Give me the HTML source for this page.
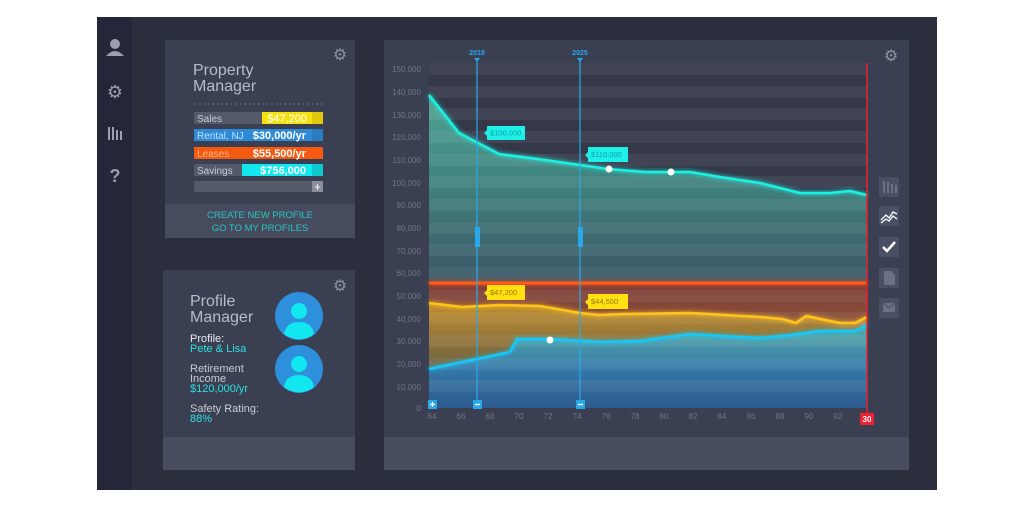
<!DOCTYPE html>
<html><head><meta charset="utf-8"><style>
body{margin:0;background:#fff;width:1035px;height:510px;overflow:hidden;font-family:"Liberation Sans",sans-serif}
svg{display:block}
</style></head><body>
<svg width="1035" height="510" viewBox="0 0 1035 510" font-family="Liberation Sans, sans-serif">
<defs>
<linearGradient id="teal" gradientUnits="userSpaceOnUse" x1="0" y1="95" x2="0" y2="285"><stop offset="0" stop-color="#4fa595"/><stop offset="0.5" stop-color="#3f7f7c"/><stop offset="1" stop-color="#3a5565"/></linearGradient>
<linearGradient id="orng" gradientUnits="userSpaceOnUse" x1="0" y1="283" x2="0" y2="340"><stop offset="0" stop-color="#7e3c38"/><stop offset="1" stop-color="#8f5a38"/></linearGradient>
<linearGradient id="yel" gradientUnits="userSpaceOnUse" x1="0" y1="305" x2="0" y2="408"><stop offset="0" stop-color="#c08c2e"/><stop offset="0.45" stop-color="#826c3c"/><stop offset="1" stop-color="#3a4f6a"/></linearGradient>
<linearGradient id="blu" gradientUnits="userSpaceOnUse" x1="0" y1="330" x2="0" y2="408"><stop offset="0" stop-color="#52a8a8"/><stop offset="0.5" stop-color="#3578a8"/><stop offset="1" stop-color="#2c5a8e"/></linearGradient>
<filter id="glow" x="-10%" y="-50%" width="120%" height="200%"><feGaussianBlur stdDeviation="2.5" result="b"/><feMerge><feMergeNode in="b"/><feMergeNode in="SourceGraphic"/></feMerge></filter>
</defs>
<rect x="97" y="17" width="840" height="473" fill="#2b2e3d"/>
<rect x="97" y="17" width="35" height="473" fill="#24273a"/>
<g fill="#9aa0b0">
<circle cx="115" cy="44" r="5"/><path d="M106 56 q9-10 18 0z"/>
<text x="115" y="98" font-size="18" text-anchor="middle">⚙</text>
<rect x="108" y="127" width="2" height="13"/><rect x="112" y="127" width="2" height="13"/><rect x="116" y="130" width="2" height="10"/><rect x="120" y="131" width="2" height="9"/>
<text x="115" y="182" font-size="18" font-weight="bold" text-anchor="middle">?</text>
</g>
<rect x="165" y="40" width="190" height="198" fill="#3a3f52"/>
<rect x="165" y="204" width="190" height="34" fill="#464c5e"/>
<text x="340" y="60" font-size="16" fill="#8e93a2" text-anchor="middle">⚙</text>
<text x="193" y="75" font-size="16" fill="#b8bcc8">Property</text>
<text x="193" y="91" font-size="16" fill="#b8bcc8">Manager</text>
<line x1="195" y1="104" x2="323" y2="104" stroke="#9a9eaa" stroke-dasharray="1 3.5"/>
<rect x="194" y="112" width="129" height="12" fill="#555a6a"/><rect x="262" y="112" width="50" height="12" fill="#f5e010"/><rect x="312" y="112" width="11" height="12" fill="#e0c80e"/>
<text x="197" y="122" font-size="10" fill="#c8ccd4">Sales</text><text x="307" y="122" font-size="11" fill="#fff" text-anchor="end">$47,200</text>
<rect x="194" y="129" width="129" height="12" fill="#2f8ad6"/><rect x="312" y="129" width="11" height="12" fill="#2a7cc0"/>
<text x="197" y="139" font-size="10" fill="#bfe0ff">Rental, NJ</text><text x="306" y="139" font-size="11" font-weight="bold" fill="#fff" text-anchor="end">$30,000/yr</text>
<rect x="194" y="147" width="129" height="12" fill="#f55a10"/>
<text x="197" y="157" font-size="10" fill="#ffb080">Leases</text><text x="306" y="157" font-size="11" font-weight="bold" fill="#fff" text-anchor="end">$55,500/yr</text>
<rect x="194" y="164" width="129" height="12" fill="#555a6a"/><rect x="242" y="164" width="70" height="12" fill="#12e6ee"/><rect x="312" y="164" width="11" height="12" fill="#10c8d0"/>
<text x="197" y="174" font-size="10" fill="#c8ccd4">Savings</text><text x="306" y="174" font-size="11" font-weight="bold" fill="#fff" text-anchor="end">$756,000</text>
<rect x="194" y="181" width="129" height="11" fill="#555a6a"/><rect x="312" y="181" width="11" height="11" fill="#8a8e9a"/>
<text x="317.5" y="191" font-size="12" fill="#fff" text-anchor="middle">+</text>
<text x="260" y="218" font-size="9.5" fill="#2cc4c0" text-anchor="middle">CREATE NEW PROFILE</text>
<text x="260" y="231" font-size="9.5" fill="#2cc4c0" text-anchor="middle">GO TO  MY PROFILES</text>
<rect x="163" y="270" width="192" height="200" fill="#3a3f52"/>
<rect x="163" y="437" width="192" height="33" fill="#474d5e"/>
<text x="340" y="291" font-size="16" fill="#8e93a2" text-anchor="middle">⚙</text>
<text x="190" y="306" font-size="16" fill="#b8bcc8">Profile</text>
<text x="190" y="322" font-size="16" fill="#b8bcc8">Manager</text>
<text x="190" y="342" font-size="11" fill="#e8eaf0">Profile:</text>
<text x="190" y="352" font-size="11" fill="#2ee0e0">Pete &amp; Lisa</text>
<text x="190" y="372" font-size="11" fill="#c8ccd4">Retirement</text>
<text x="190" y="382" font-size="11" fill="#c8ccd4">Income</text>
<text x="190" y="392" font-size="11" fill="#2ee0e0">$120,000/yr</text>
<text x="190" y="412" font-size="11" fill="#c8ccd4">Safety Rating:</text>
<text x="190" y="422" font-size="11" fill="#2ee0e0">88%</text>
<circle cx="299" cy="316" r="24" fill="#2e8fdc"/><circle cx="299" cy="311" r="8" fill="#12e6ee"/><path d="M284 334 q2-12 15-12 q13 0 15 12 a24 24 0 0 1 -30 0z" fill="#12e6ee"/>
<circle cx="299" cy="369" r="24" fill="#2e8fdc"/><circle cx="299" cy="364" r="8" fill="#12e6ee"/><path d="M284 387 q2-12 15-12 q13 0 15 12 a24 24 0 0 1 -30 0z" fill="#12e6ee"/>
<rect x="384" y="40" width="525" height="430" fill="#3a3f52"/>
<rect x="384" y="437" width="525" height="33" fill="#474d5e"/>
<rect x="429" y="63" width="438" height="345" fill="#343849"/>
<path d="M429 95 L459 133 L499 154 L545 160 L580 165 L608 169 L645 172 L690 172 L720 177 L760 183 L800 193 L830 193 L850 191 L867 195 L867 283 L429 283Z" fill="url(#teal)"/>
<rect x="429" y="283" width="438" height="125" fill="url(#orng)"/>
<path d="M429 303 L462 307 L500 305 L540 306 L580 313 L598 315 L625 314 L690 313 L760 317 L782 319 L796 323 L806 316 L840 323 L855 323 L867 317 L867 408 L429 408Z" fill="url(#yel)"/>
<path d="M429 369 L510 352 L517 339 L550 339 L600 342 L640 341 L690 334 L760 338 L790 335 L820 331 L855 331 L867 325 L867 408 L429 408Z" fill="url(#blu)"/>
<g fill="#ffffff" opacity="0.06">
<rect x="429" y="63" width="438" height="12"/><rect x="429" y="86" width="438" height="12"/><rect x="429" y="108" width="438" height="12"/><rect x="429" y="131" width="438" height="12"/><rect x="429" y="154" width="438" height="12"/><rect x="429" y="176" width="438" height="12"/><rect x="429" y="199" width="438" height="12"/><rect x="429" y="222" width="438" height="12"/><rect x="429" y="244" width="438" height="12"/><rect x="429" y="267" width="438" height="12"/><rect x="429" y="290" width="438" height="12"/><rect x="429" y="312" width="438" height="12"/><rect x="429" y="335" width="438" height="12"/><rect x="429" y="358" width="438" height="12"/><rect x="429" y="380" width="438" height="12"/>
</g>
<text x="891" y="61" font-size="16" fill="#8e93a2" text-anchor="middle">⚙</text>
<g font-size="8" fill="#6f7587" text-anchor="end">
<text x="421" y="72">150,000</text><text x="421" y="95">140,000</text><text x="421" y="118">130,000</text><text x="421" y="140">120,000</text><text x="421" y="163">110,000</text><text x="421" y="186">100,000</text><text x="421" y="208">90,000</text><text x="421" y="231">80,000</text><text x="421" y="254">70,000</text><text x="421" y="276">60,000</text><text x="421" y="299">50,000</text><text x="421" y="322">40,000</text><text x="421" y="344">30,000</text><text x="421" y="367">20,000</text><text x="421" y="390">10,000</text><text x="421" y="411">0</text>
</g>
<g font-size="8" fill="#6f7587" text-anchor="middle">
<text x="432" y="419">64</text><text x="461" y="419">66</text><text x="490" y="419">68</text><text x="519" y="419">70</text><text x="548" y="419">72</text><text x="577" y="419">74</text><text x="606" y="419">76</text><text x="635" y="419">78</text><text x="664" y="419">80</text><text x="693" y="419">82</text><text x="722" y="419">84</text><text x="751" y="419">86</text><text x="780" y="419">88</text><text x="809" y="419">90</text><text x="838" y="419">92</text>
</g>
<g fill="none" stroke-width="2.5" stroke-linejoin="round" filter="url(#glow)">
<path d="M429 95 L459 133 L499 154 L545 160 L580 165 L608 169 L645 172 L690 172 L720 177 L760 183 L800 193 L830 193 L850 191 L867 195" stroke="#1ef0e0"/>
<line x1="429" y1="283" x2="867" y2="283" stroke="#ff5a14" stroke-width="3"/>
<path d="M429 303 L462 307 L500 305 L540 306 L580 313 L598 315 L625 314 L690 313 L760 317 L782 319 L796 323 L806 316 L840 323 L855 323 L867 317" stroke="#ffc41a"/>
<path d="M429 369 L510 352 L517 339 L550 339 L600 342 L640 341 L690 334 L760 338 L790 335 L820 331 L855 331 L867 325" stroke="#18c8f8"/>
</g>
<g fill="#fff"><circle cx="609" cy="169" r="3.5"/><circle cx="671" cy="172" r="3.5"/><circle cx="550" cy="340" r="3.5"/></g>
<line x1="867" y1="63" x2="867" y2="414" stroke="#f02030" stroke-width="1.5"/>
<rect x="860" y="413" width="14" height="12" fill="#f02030"/><text x="867" y="422" font-size="8" fill="#fff" text-anchor="middle" font-weight="bold">30</text>
<g stroke="#2aa8ea" stroke-width="1.2"><line x1="477" y1="58" x2="477" y2="408"/><line x1="580" y1="58" x2="580" y2="408"/></g>
<g fill="#2aa8ea">
<path d="M474 58 h6 l-3 4z"/><path d="M577 58 h6 l-3 4z"/>
<text x="477" y="55" font-size="7" font-weight="bold" text-anchor="middle">2018</text><text x="580" y="55" font-size="7" font-weight="bold" text-anchor="middle">2025</text>
<rect x="475" y="227" width="5" height="20"/><rect x="578" y="227" width="5" height="20"/>
<rect x="473" y="400" width="9" height="9"/><rect x="576" y="400" width="9" height="9"/><rect x="428" y="400" width="9" height="9"/>
</g>
<g stroke="#fff" stroke-width="1.3"><line x1="475" y1="404.5" x2="480" y2="404.5"/><line x1="578" y1="404.5" x2="583" y2="404.5"/><line x1="430" y1="404.5" x2="435" y2="404.5"/><line x1="432.5" y1="402" x2="432.5" y2="407"/></g>
<g font-size="7.5" fill="#0fa0a0">
<path d="M487 126 h38 v14 h-38 v-4 l-3 -3 l3 -3z" fill="#1ef0e8"/><text x="490" y="135.5">$100,000</text>
<path d="M588 147 h40 v15 h-40 v-4 l-3 -3 l3 -3z" fill="#1ef0e8"/><text x="591" y="157">$110,000</text>
</g>
<g font-size="7.5" fill="#9a7a00">
<path d="M487 285 h38 v15 h-38 v-4 l-3 -3 l3 -3z" fill="#ffe010"/><text x="490" y="295">$47,200</text>
<path d="M588 294 h40 v15 h-40 v-4 l-3 -3 l3 -3z" fill="#ffe010"/><text x="591" y="304">$44,500</text>
</g>
<g fill="#4a5064"><rect x="879" y="177" width="20" height="20"/><rect x="879" y="206" width="20" height="20"/><rect x="879" y="237" width="20" height="20"/><rect x="879" y="268" width="20" height="20"/><rect x="879" y="298" width="20" height="20"/></g>
<g fill="#6c7286"><rect x="883" y="181" width="2" height="12"/><rect x="887" y="182" width="2" height="11"/><rect x="891" y="184" width="2" height="9"/><rect x="895" y="185" width="2" height="8"/>
<path d="M884 271 h7 l4 4 v10 h-11z"/><rect x="883" y="303" width="12" height="9"/></g>
<path d="M883 303 l6 5 l6 -5" stroke="#4a5064" fill="none"/>
<path d="M881 220 l5 -5 l3 3 l4 -6 l4 2 M881 223 l5 -4 l3 2 l4 -5 l4 3" stroke="#fff" stroke-width="1.3" fill="none"/>
<path d="M883 247 l4 4 l8 -9" stroke="#fff" stroke-width="2.5" fill="none"/>
</svg>
</body></html>
